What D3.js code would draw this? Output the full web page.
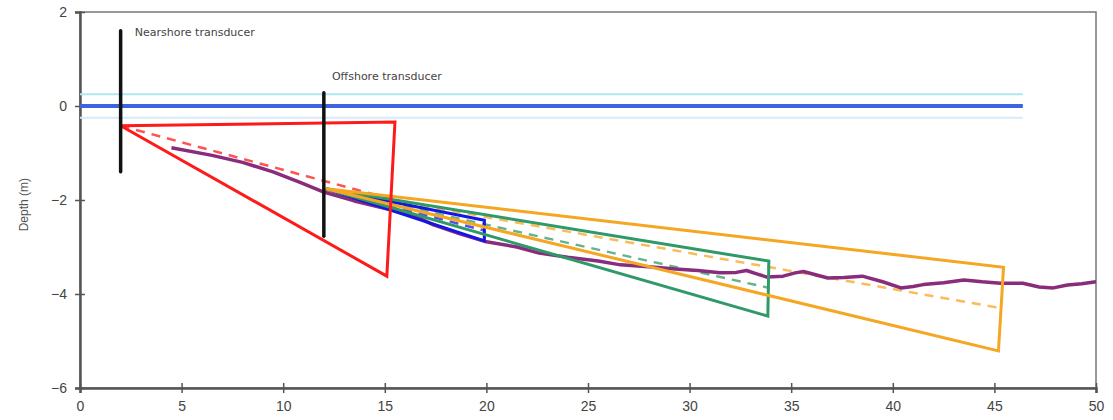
<!DOCTYPE html>
<html>
<head>
<meta charset="utf-8">
<script src="https://cdn.jsdelivr.net/npm/d3@7"></script>
<style>
  body { margin: 0; background: #fff; }
  svg { display: block; }
  .tick text { font-family: "Liberation Sans", Arial, sans-serif; font-size: 14px; fill: #444; }
</style>
</head>
<body>
<div id="chart"></div>
<script>
const xTicks = [0, 5, 10, 15, 20, 25, 30, 35, 40, 45, 50]
const yTicks = [2, 0, -2, -4, -6]

// measured bed profile
const bedX = [4.5, 6.5, 8.0, 9.5, 10.8, 12.0, 13.5, 15.3, 16.5, 17.4, 18.7, 20.0, 21.5, 22.6, 24.0, 25.5, 26.6, 28.0, 29.3, 30.4, 31.5, 32.3, 32.8, 33.3, 33.8, 34.6, 35.2, 35.6, 36.2, 36.8, 37.6, 38.5, 39.5, 40.4, 41.0, 41.5, 42.5, 43.5, 44.4, 45.3, 46.4, 47.2, 47.9, 48.6, 49.3, 50.0]
const bedDepth = [-0.89, -1.05, -1.2, -1.4, -1.62, -1.83, -2.02, -2.21, -2.35, -2.53, -2.72, -2.89, -3.0, -3.13, -3.22, -3.3, -3.38, -3.42, -3.47, -3.5, -3.55, -3.54, -3.5, -3.57, -3.64, -3.62, -3.55, -3.52, -3.59, -3.66, -3.65, -3.62, -3.74, -3.87, -3.84, -3.8, -3.76, -3.7, -3.74, -3.77, -3.77, -3.85, -3.87, -3.81, -3.78, -3.74]

// water levels
const waterLevels = [0.25, -0.25, 0]
const waterColors = ['#aee6f6', '#d8e9f7', '#3d63e0']
const waterWidths = [2, 2, 4]
const waterEndX = 46.4

// transducers
const transName = ['Nearshore transducer', 'Offshore transducer']
const transX = [2, 12]
const transTop = [1.6, 0.28]
const transBottom = [-1.4, -2.77]
const labelX = [2.7, 12.4]
const labelY = [1.5, 0.55]

// acoustic beams: origin, top edge end, bottom edge end, centre line end
const beamColors = ['#1515e6', '#2f9a68', '#f5a623', '#ff1a1a']
const beamOriginX = [12.1, 12.1, 12.1, 2.0]
const beamOriginY = [-1.76, -1.76, -1.76, -0.42]
const beamTopX = [19.9, 33.9, 45.45, 15.5]
const beamTopY = [-2.43, -3.30, -3.43, -0.34]
const beamBottomX = [19.9, 33.85, 45.2, 15.1]
const beamBottomY = [-2.87, -4.47, -5.21, -3.62]
const beamMidX = [19.9, 33.9, 45.3, 15.3]
const beamMidY = [-2.65, -3.87, -4.30, -1.98]

const width = 1113, height = 420
const margin = { top: 12, right: 17, bottom: 32, left: 80 }

const svg = d3.select('#chart').append('svg')
  .attr('width', width)
  .attr('height', height)

const x = d3.scaleLinear().domain([0, 50]).range([margin.left, width - margin.right])
const y = d3.scaleLinear().domain([-6, 2]).range([height - margin.bottom, margin.top])

// frame
svg.append('rect')
  .attr('x', x(0)).attr('y', y(2))
  .attr('width', x(50) - x(0)).attr('height', y(-6) - y(2))
  .attr('fill', 'none').attr('stroke', '#777').attr('stroke-width', 1.5)

const xAxis = svg.append('g')
  .attr('transform', `translate(0,${y(-6)})`)
  .call(d3.axisBottom(x).tickValues(xTicks).tickFormat(d3.format('d')).tickSize(5).tickPadding(8))
xAxis.select('.domain').attr('stroke', '#555').attr('stroke-width', 2.5)
xAxis.selectAll('.tick line').attr('stroke', '#555').attr('stroke-width', 1.5).attr('y1', -5)

const yAxis = svg.append('g')
  .attr('transform', `translate(${x(0)},0)`)
  .call(d3.axisLeft(y).tickValues(yTicks).tickFormat(d3.format('d')).tickSize(5).tickPadding(8))
yAxis.select('.domain').attr('stroke', '#555').attr('stroke-width', 2.5)
yAxis.selectAll('.tick line').attr('stroke', '#555').attr('stroke-width', 1.5).attr('x1', 5)

svg.append('text')
  .attr('transform', `translate(28,${y(-2.1)}) rotate(-90)`)
  .attr('text-anchor', 'middle')
  .style('font-family', '"Liberation Sans", Arial, sans-serif')
  .style('font-size', '12px')
  .style('fill', '#555')
  .text('Depth (m)')

const line = d3.line().x(d => x(d[0])).y(d => y(d[1]))

// water lines
svg.append('g').selectAll('line')
  .data(waterLevels)
  .enter().append('line')
    .attr('x1', x(0))
    .attr('x2', x(waterEndX))
    .attr('y1', d => y(d))
    .attr('y2', d => y(d))
    .attr('stroke', (d, i) => waterColors[i])
    .attr('stroke-width', (d, i) => waterWidths[i])

// beams
const beams = beamColors.map((c, i) => ({
  color: c,
  outline: [[beamOriginX[i], beamOriginY[i]], [beamTopX[i], beamTopY[i]], [beamBottomX[i], beamBottomY[i]], [beamOriginX[i], beamOriginY[i]]],
  mid: [[beamOriginX[i], beamOriginY[i]], [beamMidX[i], beamMidY[i]]]
}))

svg.append('g').selectAll('.mid')
  .data(beams)
  .enter().append('path')
    .attr('class', 'mid')
    .attr('d', d => line(d.mid))
    .attr('fill', 'none')
    .attr('stroke', d => d.color)
    .attr('stroke-opacity', 0.75)
    .attr('stroke-width', 2.5)
    .attr('stroke-dasharray', '9,7')

// bed profile
svg.append('path')
  .datum(bedX.map((v, i) => [v, bedDepth[i]]))
  .attr('d', line)
  .attr('fill', 'none')
  .attr('stroke', '#8a2c7c')
  .attr('stroke-width', 3.5)
  .attr('stroke-linejoin', 'round')

svg.append('g').selectAll('.outline')
  .data(beams)
  .enter().append('path')
    .attr('class', 'outline')
    .attr('d', d => line(d.outline))
    .attr('fill', 'none')
    .attr('stroke', d => d.color)
    .attr('stroke-width', 3)
    .attr('stroke-linejoin', 'miter')

// transducers
const trans = svg.append('g')
trans.selectAll('line')
  .data(transX)
  .enter().append('line')
    .attr('x1', d => x(d))
    .attr('x2', d => x(d))
    .attr('y1', (d, i) => y(transTop[i]))
    .attr('y2', (d, i) => y(transBottom[i]))
    .attr('stroke', '#111')
    .attr('stroke-width', 3.5)
    .attr('stroke-linecap', 'round')

trans.selectAll('text')
  .data(transName)
  .enter().append('text')
    .attr('x', (d, i) => x(labelX[i]))
    .attr('y', (d, i) => y(labelY[i]))
    .style('font-family', '"DejaVu Sans", sans-serif')
    .style('font-size', '11px')
    .style('fill', '#444')
    .text(d => d)
</script>
</body>
</html>
